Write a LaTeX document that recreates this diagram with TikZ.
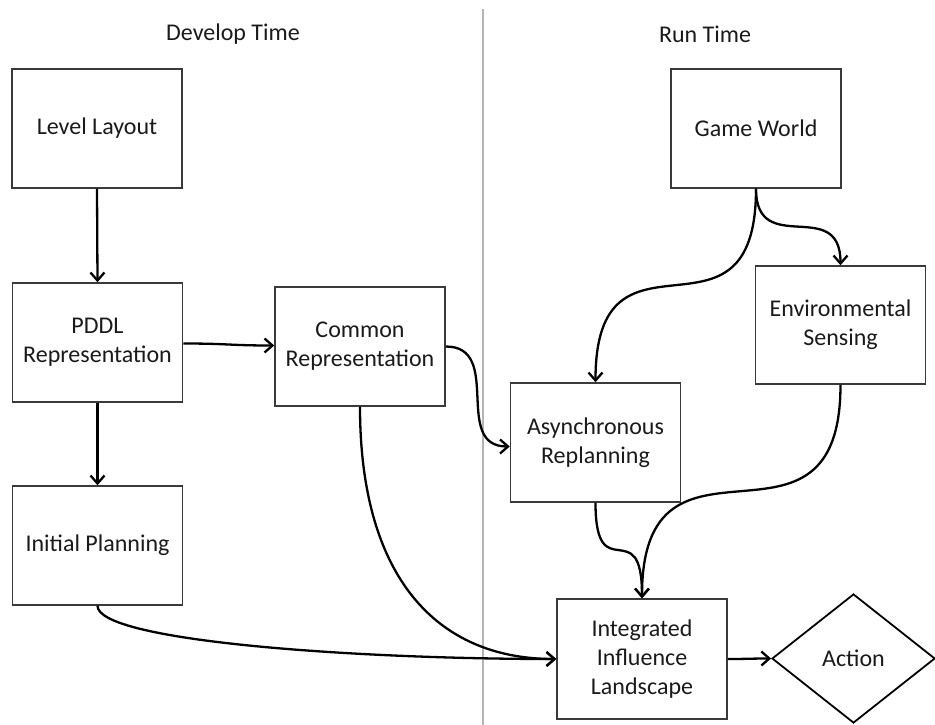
\documentclass[tikz,border=0pt]{standalone}
\usepackage{fontspec}
\setmainfont{Carlito}
\usetikzlibrary{arrows.meta,shapes.geometric}
\definecolor{boxline}{HTML}{3A3A3A}
\definecolor{divider}{HTML}{B4B4B4}
\definecolor{ink}{HTML}{1A1A1A}
\tikzset{
  stagebox/.style={draw=boxline, line width=1.5pt, minimum width=170pt,
    minimum height=119pt, inner sep=0pt, align=center, text=ink,
    font=\fontsize{24}{29}\selectfont},
  decision/.style={draw=black, line width=1.8pt, diamond, aspect=1.26,
    minimum width=163pt, minimum height=129pt, inner sep=0pt, text=ink,
    font=\fontsize{24}{29}\selectfont},
  heading/.style={text=ink, font=\fontsize{24}{29}\selectfont, inner sep=0pt},
  flow/.style={draw=black, line width=2.3pt,
    -{Straight Barb[length=8pt,width=14pt,line width=2.3pt]}},
}
\begin{document}
\begin{tikzpicture}[x=1pt,y=-1pt]
  \useasboundingbox (0,0) rectangle (935,725);

  % separator between the two phases
  \coordinate (sepTop) at (483,9);
  \coordinate (sepBot) at (483,725);
  \draw[divider, line width=2.5pt] (sepTop) -- (sepBot);

  % phase headings
  \node[heading] (devtime) at (233,34) {Develop Time};
  \node[heading] (runtime) at (705,34) {Run Time};

  % develop-time stages
  \node[stagebox] (level)   at (97,128.5)  {Level Layout};
  \node[stagebox] (pddl)    at (97.5,342.5) {PDDL\\Representation};
  \node[stagebox] (common)  at (360,346.5) {Common\\Representation};
  \node[stagebox] (initial) at (97.5,545.5) {Initial Planning};

  % run-time stages
  \node[stagebox] (world)   at (756,128.5)  {Game World};
  \node[stagebox, minimum height=118pt] (sensing) at (840.5,325) {Environmental\\Sensing};
  \node[stagebox] (replan)  at (595.5,442.5) {Asynchronous\\Replanning};
  \node[stagebox, minimum height=120pt] (landscape) at (642,659) {Integrated\\Influence\\Landscape};
  \node[decision] (action)  at (853.5,658.5) {Action};

  % connectors
  \draw[flow] (level.south) -- (pddl.north);
  \draw[flow] (pddl.south) -- (initial.north);
  \draw[flow] ([yshift=-1pt]pddl.east) .. controls +(45,0) and +(-45,0) .. ([yshift=1pt]common.west);
  \draw[flow] (common.east) .. controls +(58,0) and +(-58,0) .. ([yshift=-4pt]replan.west);
  \draw[flow] (common.south) .. controls +(0,170) and +(-120,0) .. (landscape.west);
  \draw[flow] (initial.south) .. controls +(0,35) and +(-207,0) .. (landscape.west);
  \draw[flow] (world.south) .. controls +(0,175) and +(0,-175) .. (replan.north);
  \draw[flow] (world.south) .. controls +(0,70) and +(0,-70) .. (sensing.north);
  \draw[flow] (replan.south) .. controls +(0,88) and +(0,-88) .. (landscape.north);
  \draw[flow] (sensing.south) .. controls +(0,195) and +(0,-195) .. (landscape.north);
  \draw[flow] (landscape.east) .. controls +(20,0) and +(-20,0) .. (action.west);
\end{tikzpicture}
\end{document}
